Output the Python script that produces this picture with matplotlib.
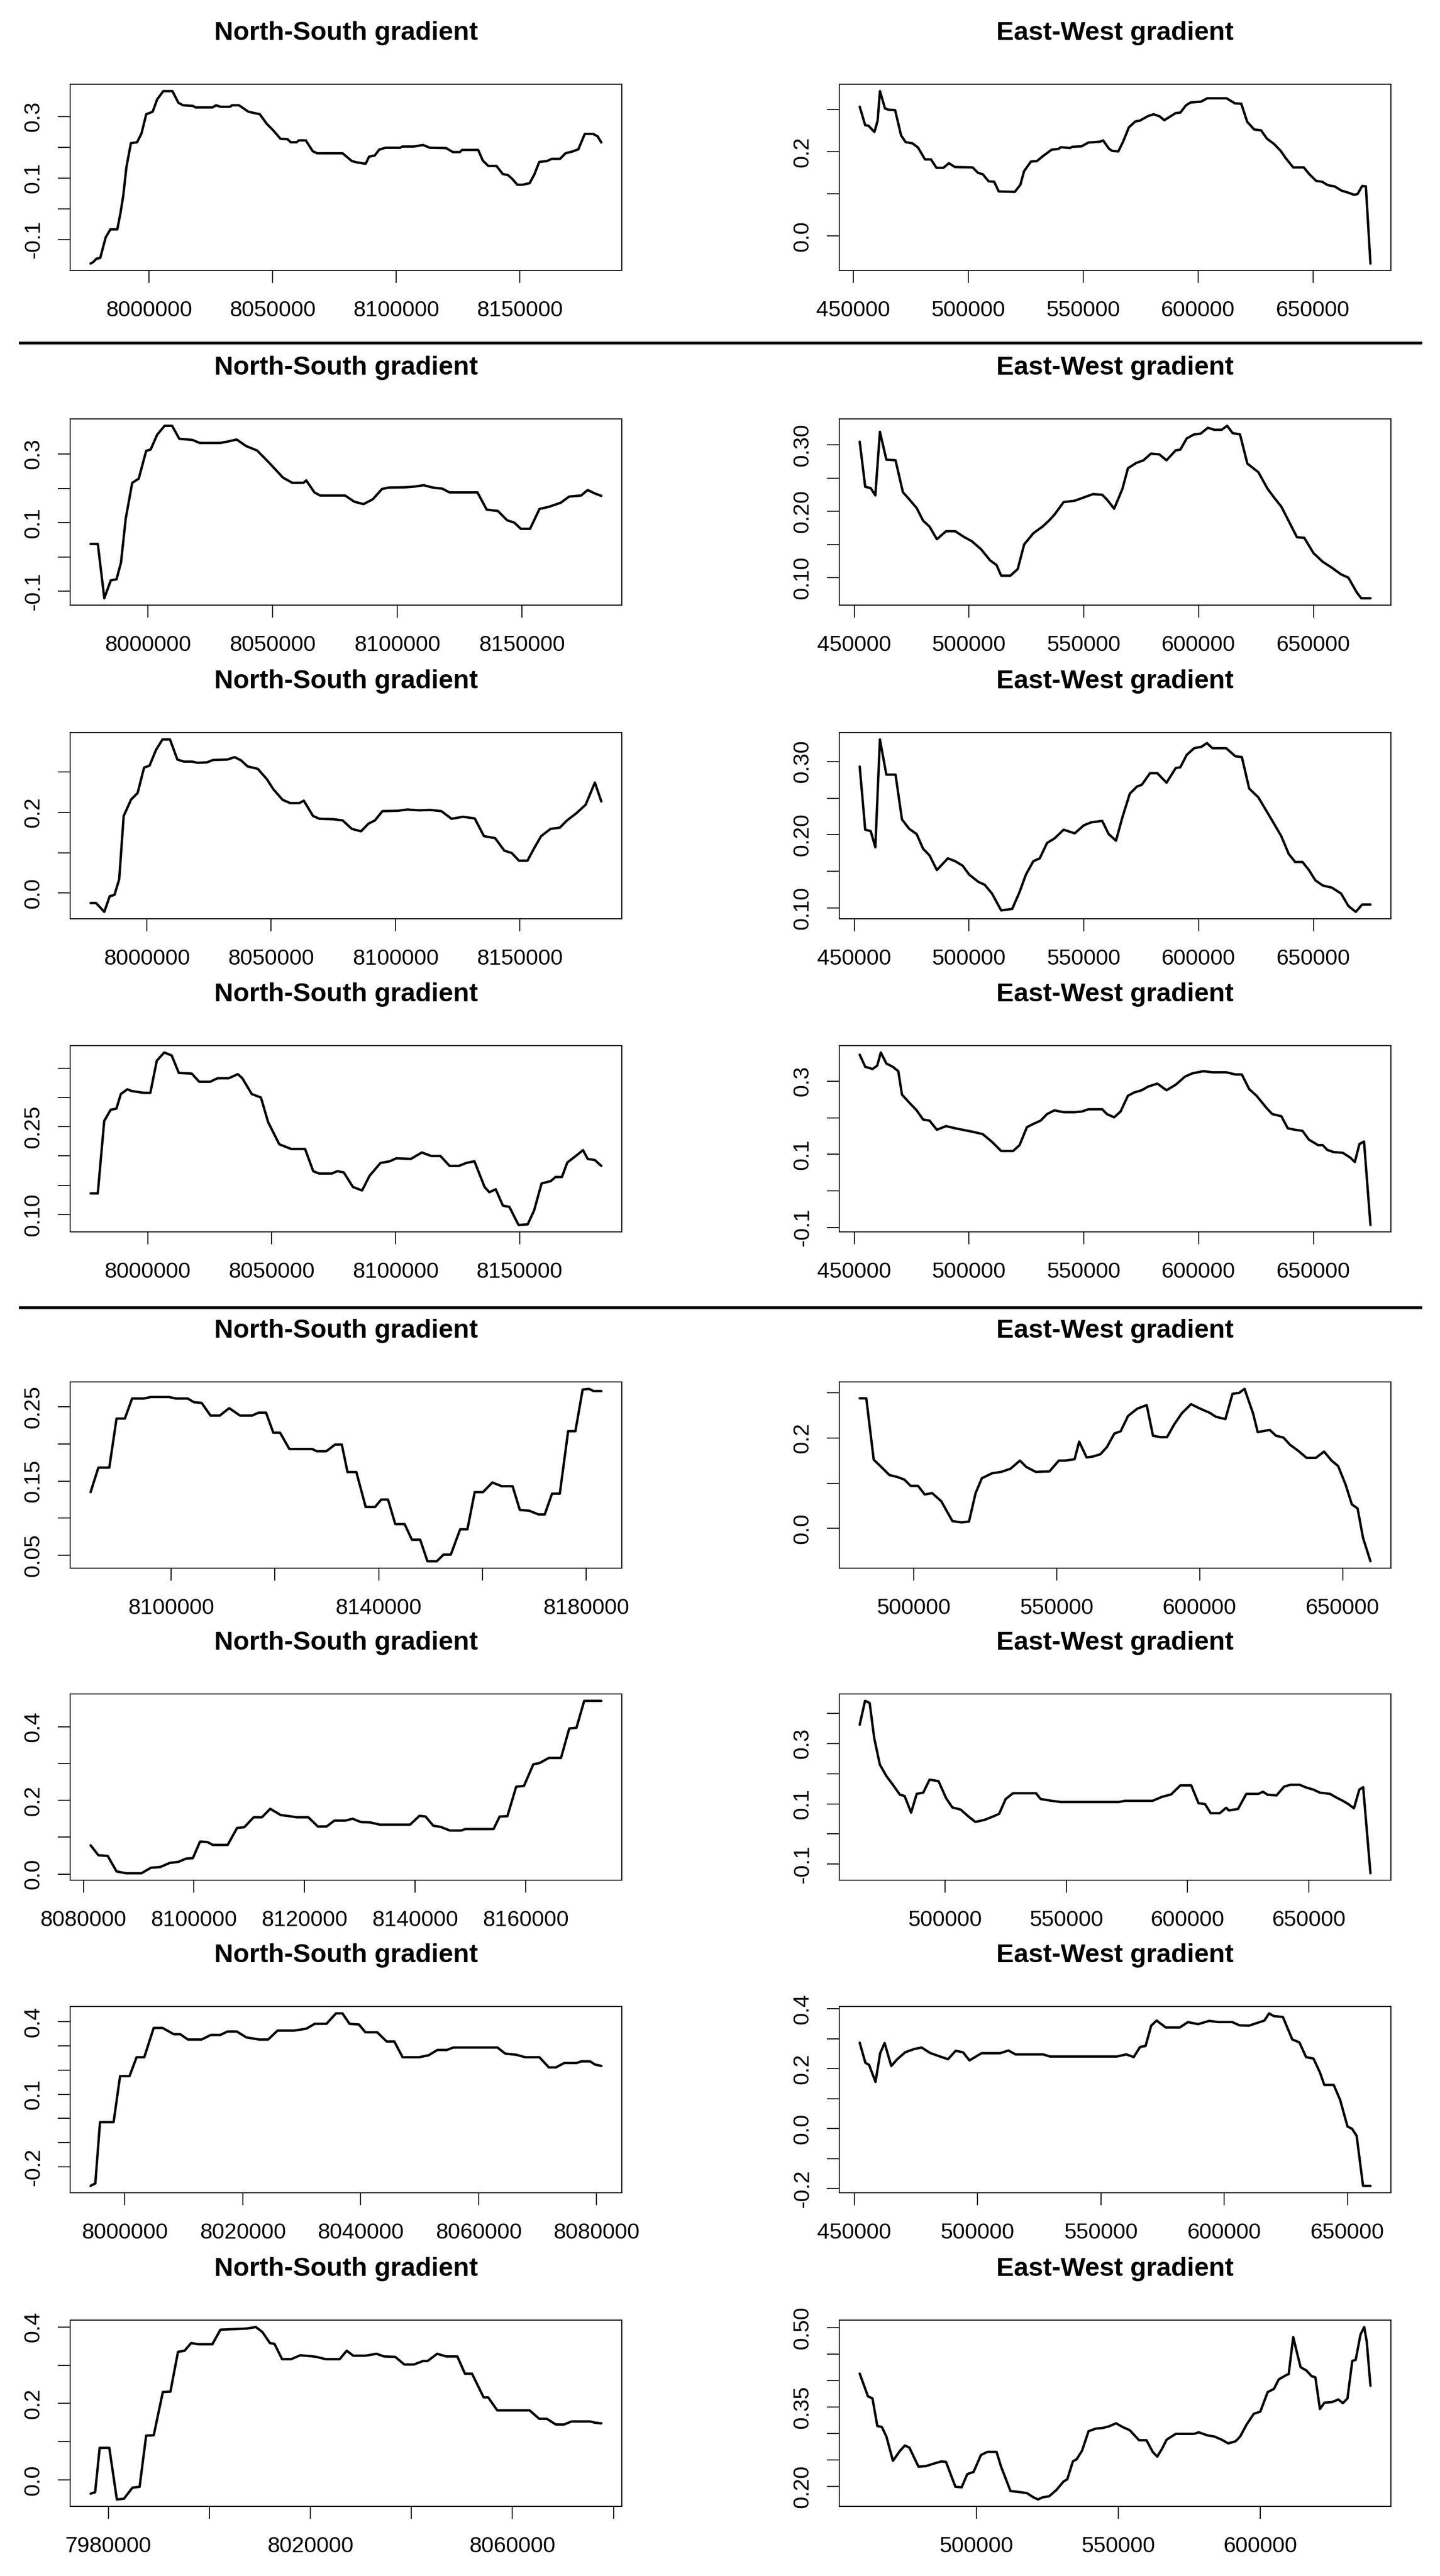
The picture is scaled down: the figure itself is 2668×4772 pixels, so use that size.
import matplotlib.pyplot as plt
from matplotlib.lines import Line2D

plt.rcParams['font.family'] = ['Liberation Sans', 'DejaVu Sans']

# gradient profiles: (coordinate in km, gradient)
ns_1 = [(7976.4, -0.178), (7977.5, -0.173), (7978.8, -0.162), (7980.3, -0.160), (7982.5, -0.093),
        (7984.4, -0.067), (7987.2, -0.067), (7988.5, -0.013), (7989.6, 0.042), (7990.9, 0.136),
        (7992.7, 0.213), (7995.2, 0.216), (7997.0, 0.245), (7998.9, 0.307), (8001.5, 0.315),
        (8003.3, 0.355), (8005.8, 0.382), (8009.5, 0.382), (8011.9, 0.344), (8013.8, 0.336),
        (8017.8, 0.334), (8018.8, 0.329), (8025.7, 0.329), (8027.1, 0.336), (8029.0, 0.331),
        (8032.7, 0.331), (8033.6, 0.336), (8036.4, 0.336), (8040.2, 0.315), (8044.8, 0.307),
        (8047.6, 0.276), (8050.4, 0.253), (8053.2, 0.227), (8056.0, 0.226), (8057.3, 0.216),
        (8059.7, 0.216), (8060.6, 0.222), (8063.4, 0.222), (8066.2, 0.187), (8068.0, 0.180),
        (8078.3, 0.180), (8082.0, 0.155), (8083.8, 0.151), (8087.6, 0.146), (8089.0, 0.169),
        (8091.3, 0.173), (8093.1, 0.192), (8095.6, 0.198), (8101.5, 0.198), (8102.4, 0.202),
        (8107.1, 0.202), (8110.8, 0.207), (8113.6, 0.198), (8120.1, 0.197), (8122.9, 0.184),
        (8125.7, 0.184), (8126.6, 0.191), (8133.1, 0.191), (8135.0, 0.156), (8137.2, 0.139),
        (8140.5, 0.139), (8143.0, 0.113), (8145.2, 0.109), (8147.0, 0.096), (8148.9, 0.078),
        (8151.1, 0.078), (8153.9, 0.083), (8155.8, 0.111), (8157.8, 0.152), (8161.0, 0.155),
        (8162.8, 0.162), (8166.2, 0.162), (8168.4, 0.180), (8171.2, 0.186), (8173.6, 0.193),
        (8176.2, 0.243), (8179.6, 0.243), (8181.4, 0.235), (8182.9, 0.215)]

ew_1 = [(452.8, 0.307), (455.2, 0.263), (456.6, 0.262), (459.2, 0.247), (460.6, 0.274),
        (461.6, 0.344), (463.8, 0.303), (465.2, 0.300), (468.2, 0.299), (470.8, 0.239),
        (472.8, 0.223), (475.8, 0.220), (478.2, 0.210), (481.2, 0.182), (483.8, 0.182),
        (486.2, 0.162), (489.2, 0.162), (491.6, 0.173), (494.2, 0.164), (501.9, 0.163),
        (504.3, 0.150), (506.3, 0.147), (508.9, 0.130), (511.3, 0.129), (513.3, 0.106),
        (520.3, 0.105), (522.7, 0.122), (524.3, 0.154), (527.3, 0.177), (529.9, 0.178),
        (532.3, 0.189), (536.3, 0.205), (539.3, 0.207), (540.3, 0.211), (544.3, 0.209),
        (545.3, 0.212), (549.3, 0.213), (552.3, 0.222), (557.3, 0.224), (558.7, 0.227),
        (561.3, 0.207), (562.7, 0.202), (565.3, 0.201), (567.3, 0.223), (569.9, 0.258),
        (572.7, 0.272), (574.7, 0.274), (578.3, 0.285), (580.7, 0.289), (583.3, 0.284),
        (585.3, 0.275), (590.3, 0.292), (592.3, 0.293), (594.7, 0.310), (596.7, 0.317),
        (601.3, 0.319), (604.0, 0.327), (612.4, 0.327), (616.0, 0.315), (618.8, 0.314),
        (621.4, 0.271), (624.4, 0.253), (627.4, 0.251), (630.0, 0.231), (633.0, 0.219),
        (636.0, 0.202), (638.0, 0.186), (641.4, 0.163), (646.0, 0.163), (648.4, 0.147),
        (651.4, 0.131), (654.0, 0.129), (656.4, 0.121), (659.4, 0.118), (662.4, 0.108),
        (665.4, 0.103), (668.0, 0.098), (669.4, 0.100), (671.4, 0.119), (673.0, 0.118),
        (675.0, -0.065)]

ns_2 = [(7977.0, 0.038), (7979.9, 0.038), (7982.5, -0.120), (7985.1, -0.068), (7987.4, -0.065),
        (7989.2, -0.016), (7991.1, 0.112), (7993.7, 0.216), (7996.3, 0.228), (7999.3, 0.309),
        (8001.1, 0.313), (8003.7, 0.356), (8006.7, 0.382), (8009.7, 0.382), (8012.6, 0.344),
        (8017.8, 0.341), (8020.8, 0.332), (8029.0, 0.332), (8031.9, 0.336), (8035.6, 0.342),
        (8039.4, 0.323), (8043.8, 0.310), (8048.3, 0.277), (8054.2, 0.231), (8057.9, 0.216),
        (8062.4, 0.216), (8063.5, 0.223), (8066.8, 0.188), (8069.1, 0.179), (8079.1, 0.179),
        (8082.8, 0.161), (8086.5, 0.154), (8090.2, 0.168), (8093.9, 0.198), (8096.5, 0.202),
        (8103.2, 0.203), (8106.9, 0.205), (8110.6, 0.209), (8114.4, 0.202), (8118.1, 0.199),
        (8121.0, 0.188), (8132.2, 0.188), (8135.9, 0.138), (8140.4, 0.134), (8144.1, 0.107),
        (8147.0, 0.100), (8149.6, 0.082), (8153.3, 0.082), (8157.1, 0.140), (8160.8, 0.146),
        (8165.6, 0.158), (8169.0, 0.176), (8173.8, 0.179), (8176.4, 0.195), (8179.3, 0.185),
        (8181.9, 0.178)]

ew_2 = [(452.4, 0.305), (454.8, 0.237), (457.2, 0.235), (459.2, 0.224), (461.2, 0.320),
        (464.0, 0.278), (468.0, 0.277), (471.2, 0.229), (474.0, 0.218), (477.2, 0.205),
        (480.0, 0.186), (482.8, 0.177), (486.0, 0.158), (490.0, 0.170), (494.0, 0.170),
        (498.0, 0.161), (501.2, 0.155), (505.2, 0.143), (509.2, 0.126), (512.0, 0.119),
        (514.0, 0.103), (518.0, 0.103), (521.2, 0.113), (524.0, 0.150), (528.0, 0.167),
        (532.0, 0.177), (534.8, 0.186), (537.2, 0.195), (541.2, 0.214), (546.0, 0.216),
        (550.0, 0.221), (554.0, 0.226), (558.0, 0.225), (560.0, 0.218), (563.2, 0.204),
        (566.8, 0.234), (569.2, 0.265), (572.8, 0.273), (576.0, 0.277), (579.2, 0.287),
        (582.8, 0.286), (586.0, 0.277), (590.0, 0.292), (592.0, 0.293), (594.8, 0.310),
        (598.0, 0.316), (600.8, 0.317), (604.0, 0.326), (606.8, 0.323), (610.0, 0.323),
        (612.4, 0.329), (614.8, 0.318), (618.0, 0.316), (621.2, 0.272), (626.0, 0.259),
        (630.0, 0.234), (632.8, 0.221), (636.0, 0.207), (640.0, 0.180), (642.8, 0.161),
        (646.0, 0.160), (650.0, 0.137), (654.0, 0.124), (658.0, 0.115), (662.0, 0.105),
        (665.2, 0.100), (668.8, 0.078), (670.8, 0.069), (674.8, 0.069)]

ns_3 = [(7977.4, -0.025), (7979.6, -0.025), (7982.9, -0.047), (7985.1, -0.008), (7987.0, -0.005),
        (7988.9, 0.034), (7990.7, 0.191), (7993.7, 0.232), (7996.3, 0.248), (7998.9, 0.311),
        (8001.1, 0.316), (8003.7, 0.355), (8006.3, 0.381), (8009.3, 0.381), (8012.3, 0.331),
        (8014.9, 0.326), (8018.2, 0.326), (8020.4, 0.323), (8024.1, 0.324), (8026.7, 0.330),
        (8032.3, 0.331), (8035.3, 0.337), (8037.9, 0.329), (8040.5, 0.314), (8044.6, 0.308),
        (8048.3, 0.282), (8050.9, 0.257), (8054.6, 0.231), (8057.6, 0.223), (8061.3, 0.223),
        (8063.1, 0.229), (8066.8, 0.191), (8069.4, 0.184), (8074.9, 0.183), (8078.7, 0.180),
        (8082.4, 0.159), (8086.1, 0.153), (8089.1, 0.172), (8091.7, 0.180), (8094.7, 0.203),
        (8101.0, 0.204), (8104.7, 0.207), (8109.5, 0.205), (8114.0, 0.206), (8118.4, 0.203),
        (8122.5, 0.184), (8127.0, 0.189), (8131.8, 0.185), (8135.5, 0.141), (8140.0, 0.136),
        (8143.7, 0.105), (8146.7, 0.099), (8149.6, 0.080), (8153.0, 0.080), (8155.6, 0.110),
        (8158.5, 0.141), (8162.3, 0.159), (8166.0, 0.162), (8168.9, 0.180), (8172.7, 0.198),
        (8176.4, 0.219), (8180.1, 0.274), (8182.7, 0.227)]

ew_3 = [(452.4, 0.293), (454.8, 0.207), (457.2, 0.205), (459.2, 0.183), (461.2, 0.330),
        (464.0, 0.282), (468.0, 0.282), (470.8, 0.221), (474.0, 0.208), (477.2, 0.201),
        (480.0, 0.181), (482.8, 0.172), (486.0, 0.152), (490.8, 0.168), (494.0, 0.164),
        (497.2, 0.158), (500.0, 0.146), (504.0, 0.136), (506.8, 0.132), (510.0, 0.120),
        (514.0, 0.097), (518.8, 0.099), (522.0, 0.122), (524.8, 0.146), (528.0, 0.164),
        (530.8, 0.168), (534.0, 0.189), (537.2, 0.195), (541.2, 0.207), (546.0, 0.202),
        (550.0, 0.213), (553.2, 0.217), (558.0, 0.219), (560.8, 0.201), (564.0, 0.192),
        (566.8, 0.224), (570.0, 0.256), (573.2, 0.266), (575.2, 0.268), (578.8, 0.284),
        (582.0, 0.284), (586.0, 0.271), (590.0, 0.291), (592.0, 0.292), (594.8, 0.309),
        (598.0, 0.318), (601.2, 0.320), (603.6, 0.325), (606.0, 0.318), (612.0, 0.318),
        (616.0, 0.307), (618.8, 0.306), (622.0, 0.263), (626.0, 0.251), (630.0, 0.230),
        (633.2, 0.213), (636.0, 0.198), (639.2, 0.174), (642.0, 0.163), (645.2, 0.163),
        (648.0, 0.152), (650.8, 0.138), (654.0, 0.131), (658.0, 0.128), (662.0, 0.120),
        (665.2, 0.103), (668.4, 0.095), (671.2, 0.105), (674.8, 0.105)]

ns_4 = [(7977.0, 0.136), (7979.9, 0.136), (7982.5, 0.260), (7985.1, 0.279), (7987.4, 0.281),
        (7989.2, 0.306), (7991.8, 0.314), (7993.7, 0.311), (7998.5, 0.308), (8001.1, 0.308),
        (8003.7, 0.363), (8006.7, 0.377), (8009.7, 0.372), (8012.6, 0.342), (8017.8, 0.341),
        (8020.8, 0.327), (8025.2, 0.327), (8028.2, 0.333), (8032.7, 0.333), (8036.4, 0.340),
        (8038.2, 0.333), (8042.0, 0.306), (8045.7, 0.300), (8048.6, 0.258), (8053.1, 0.220),
        (8057.9, 0.212), (8063.5, 0.212), (8066.8, 0.174), (8069.1, 0.170), (8074.3, 0.170),
        (8076.5, 0.174), (8079.1, 0.172), (8082.8, 0.147), (8086.5, 0.141), (8089.5, 0.166),
        (8093.9, 0.188), (8097.7, 0.191), (8100.3, 0.196), (8106.2, 0.195), (8110.6, 0.206),
        (8114.4, 0.200), (8118.1, 0.200), (8121.8, 0.183), (8125.5, 0.183), (8128.5, 0.188),
        (8131.8, 0.191), (8135.9, 0.147), (8137.8, 0.138), (8140.4, 0.143), (8143.3, 0.115),
        (8145.9, 0.113), (8149.6, 0.082), (8153.3, 0.083), (8155.9, 0.107), (8158.9, 0.153),
        (8162.6, 0.157), (8164.5, 0.164), (8167.1, 0.164), (8169.3, 0.189), (8173.0, 0.201),
        (8175.6, 0.210), (8177.5, 0.195), (8180.4, 0.193), (8183.0, 0.183)]

ew_4 = [(452.4, 0.372), (454.8, 0.339), (458.0, 0.333), (460.0, 0.342), (461.6, 0.378),
        (464.0, 0.348), (466.8, 0.339), (469.2, 0.327), (470.8, 0.263), (474.0, 0.241),
        (477.2, 0.220), (480.0, 0.195), (482.8, 0.192), (486.0, 0.167), (490.0, 0.177),
        (494.0, 0.171), (498.0, 0.166), (502.0, 0.161), (506.0, 0.155), (510.0, 0.134),
        (514.0, 0.109), (519.2, 0.109), (522.0, 0.125), (525.2, 0.174), (528.0, 0.183),
        (531.2, 0.192), (534.0, 0.210), (537.2, 0.220), (541.2, 0.215), (546.0, 0.215),
        (549.2, 0.217), (552.0, 0.223), (558.0, 0.223), (560.0, 0.210), (563.2, 0.201),
        (566.0, 0.217), (569.2, 0.260), (572.0, 0.269), (575.2, 0.275), (578.0, 0.285),
        (582.0, 0.293), (586.0, 0.275), (590.0, 0.290), (594.0, 0.312), (597.2, 0.321),
        (602.0, 0.327), (606.0, 0.324), (612.0, 0.324), (616.0, 0.318), (618.8, 0.318),
        (622.0, 0.278), (625.2, 0.260), (629.2, 0.229), (632.0, 0.210), (636.0, 0.204),
        (638.8, 0.171), (642.0, 0.167), (645.2, 0.164), (648.0, 0.140), (652.0, 0.125),
        (654.0, 0.125), (656.0, 0.112), (658.8, 0.106), (662.8, 0.104), (666.0, 0.091),
        (668.0, 0.079), (670.0, 0.128), (672.0, 0.135), (674.8, -0.093)]

ns_5 = [(8084.5, 0.135), (8086.0, 0.168), (8088.1, 0.168), (8089.5, 0.234), (8091.1, 0.234),
        (8092.5, 0.261), (8094.8, 0.261), (8096.1, 0.263), (8099.6, 0.263), (8100.9, 0.261),
        (8103.2, 0.261), (8104.4, 0.256), (8105.9, 0.255), (8107.6, 0.238), (8109.4, 0.238),
        (8111.2, 0.248), (8113.3, 0.238), (8115.6, 0.238), (8116.9, 0.242), (8118.3, 0.242),
        (8119.7, 0.215), (8121.0, 0.215), (8122.8, 0.193), (8127.2, 0.193), (8128.1, 0.190),
        (8129.9, 0.190), (8131.6, 0.199), (8132.9, 0.199), (8134.0, 0.162), (8135.7, 0.162),
        (8137.5, 0.115), (8139.3, 0.115), (8140.5, 0.125), (8141.8, 0.125), (8143.2, 0.092),
        (8145.0, 0.092), (8146.4, 0.071), (8148.0, 0.071), (8149.4, 0.042), (8151.2, 0.042),
        (8152.5, 0.051), (8153.9, 0.051), (8155.7, 0.085), (8157.1, 0.085), (8158.5, 0.135),
        (8160.1, 0.135), (8161.9, 0.148), (8163.7, 0.143), (8165.8, 0.143), (8167.2, 0.111),
        (8169.0, 0.110), (8170.8, 0.105), (8172.0, 0.105), (8173.4, 0.133), (8174.9, 0.133),
        (8176.5, 0.217), (8177.9, 0.217), (8179.3, 0.273), (8180.5, 0.274), (8181.4, 0.271),
        (8182.9, 0.271)]

ew_5 = [(481.2, 0.288), (483.5, 0.288), (486.1, 0.152), (488.4, 0.138), (491.6, 0.118),
        (494.2, 0.114), (496.8, 0.108), (499.0, 0.094), (501.6, 0.094), (503.9, 0.075),
        (506.5, 0.078), (509.7, 0.060), (513.6, 0.016), (516.8, 0.013), (519.4, 0.015),
        (521.7, 0.078), (523.9, 0.111), (527.5, 0.122), (530.7, 0.125), (533.9, 0.132),
        (537.2, 0.150), (539.4, 0.136), (542.7, 0.125), (547.5, 0.126), (550.8, 0.150),
        (553.0, 0.150), (556.3, 0.153), (557.9, 0.192), (560.5, 0.157), (562.7, 0.159),
        (565.3, 0.164), (567.6, 0.180), (570.2, 0.210), (572.4, 0.215), (575.0, 0.249),
        (578.2, 0.265), (581.5, 0.273), (583.7, 0.205), (586.3, 0.202), (588.6, 0.202),
        (591.2, 0.231), (593.8, 0.255), (597.0, 0.275), (600.2, 0.265), (603.5, 0.256),
        (605.7, 0.247), (609.0, 0.242), (611.5, 0.298), (613.8, 0.300), (615.7, 0.309),
        (618.7, 0.254), (620.3, 0.213), (624.5, 0.218), (626.7, 0.205), (629.3, 0.201),
        (631.6, 0.185), (634.2, 0.173), (637.4, 0.156), (640.6, 0.156), (643.5, 0.170),
        (646.1, 0.150), (648.4, 0.138), (651.0, 0.097), (653.2, 0.053), (655.2, 0.044),
        (657.1, -0.021), (659.7, -0.073)]

ns_6 = [(8081.3, 0.078), (8082.7, 0.051), (8084.4, 0.049), (8086.0, 0.007), (8087.7, 0.002),
        (8090.5, 0.002), (8092.2, 0.017), (8093.9, 0.019), (8095.6, 0.030), (8097.2, 0.033),
        (8098.6, 0.042), (8099.8, 0.043), (8101.1, 0.088), (8102.4, 0.087), (8103.4, 0.079),
        (8106.1, 0.079), (8107.8, 0.125), (8109.1, 0.127), (8110.8, 0.154), (8112.3, 0.154),
        (8113.8, 0.177), (8115.7, 0.160), (8117.3, 0.157), (8118.5, 0.154), (8120.7, 0.154),
        (8122.4, 0.129), (8124.0, 0.129), (8125.4, 0.145), (8127.4, 0.145), (8128.7, 0.150),
        (8130.2, 0.141), (8131.9, 0.140), (8133.6, 0.134), (8139.1, 0.134), (8140.8, 0.158),
        (8141.9, 0.156), (8143.3, 0.131), (8144.6, 0.128), (8146.3, 0.118), (8148.3, 0.118),
        (8149.1, 0.122), (8154.2, 0.122), (8155.3, 0.156), (8156.7, 0.157), (8158.3, 0.237),
        (8159.7, 0.239), (8161.4, 0.298), (8162.5, 0.301), (8164.2, 0.315), (8166.4, 0.315),
        (8167.9, 0.395), (8169.2, 0.397), (8170.6, 0.470), (8173.7, 0.470)]

ew_6 = [(464.8, 0.362), (467.0, 0.441), (468.9, 0.434), (470.8, 0.317), (473.1, 0.230),
        (475.8, 0.192), (478.4, 0.164), (481.4, 0.130), (483.3, 0.126), (486.0, 0.071),
        (488.3, 0.133), (491.0, 0.137), (493.6, 0.180), (497.3, 0.175), (500.4, 0.119),
        (503.0, 0.088), (506.4, 0.081), (509.8, 0.057), (512.5, 0.040), (516.3, 0.047),
        (520.1, 0.059), (522.3, 0.067), (525.0, 0.116), (528.0, 0.135), (537.5, 0.135),
        (539.4, 0.116), (543.9, 0.110), (547.7, 0.106), (571.6, 0.106), (574.2, 0.110),
        (585.6, 0.110), (589.4, 0.123), (593.2, 0.131), (597.0, 0.161), (601.5, 0.161),
        (604.5, 0.102), (607.2, 0.099), (609.5, 0.069), (613.3, 0.069), (615.9, 0.087),
        (617.0, 0.078), (620.8, 0.083), (624.2, 0.133), (629.2, 0.133), (631.1, 0.140),
        (633.0, 0.130), (636.7, 0.128), (639.8, 0.157), (642.4, 0.163), (646.2, 0.163),
        (648.9, 0.154), (651.9, 0.147), (654.5, 0.137), (658.7, 0.133), (661.3, 0.121),
        (664.0, 0.110), (666.3, 0.099), (668.6, 0.085), (670.8, 0.147), (672.4, 0.155),
        (675.4, -0.130)]

ns_7 = [(7994.2, -0.278), (7995.0, -0.268), (7995.8, -0.015), (7998.1, -0.015), (7999.2, 0.175),
        (8000.8, 0.175), (8002.0, 0.253), (8003.3, 0.253), (8004.9, 0.374), (8006.4, 0.374),
        (8008.3, 0.348), (8009.4, 0.348), (8010.7, 0.326), (8013.0, 0.326), (8014.6, 0.345),
        (8016.2, 0.345), (8017.4, 0.359), (8019.0, 0.359), (8020.6, 0.335), (8022.8, 0.326),
        (8024.3, 0.326), (8025.9, 0.363), (8028.7, 0.363), (8030.8, 0.371), (8032.2, 0.391),
        (8034.2, 0.391), (8035.8, 0.434), (8036.9, 0.434), (8038.1, 0.391), (8039.7, 0.388),
        (8040.8, 0.356), (8042.8, 0.356), (8044.4, 0.318), (8045.7, 0.318), (8047.1, 0.253),
        (8049.9, 0.253), (8051.5, 0.261), (8053.0, 0.283), (8054.6, 0.283), (8055.7, 0.293),
        (8063.2, 0.293), (8064.5, 0.268), (8066.4, 0.263), (8067.9, 0.253), (8070.3, 0.253),
        (8071.9, 0.211), (8073.1, 0.211), (8074.5, 0.229), (8076.6, 0.229), (8077.4, 0.236),
        (8078.9, 0.236), (8079.7, 0.223), (8080.8, 0.217)]

ew_7 = [(452.2, 0.287), (454.5, 0.220), (456.0, 0.213), (458.6, 0.156), (460.5, 0.252),
        (462.3, 0.286), (465.0, 0.209), (467.2, 0.230), (470.6, 0.255), (474.3, 0.266),
        (477.3, 0.271), (480.7, 0.253), (484.4, 0.242), (488.0, 0.232), (491.1, 0.260),
        (494.1, 0.255), (496.7, 0.228), (501.6, 0.252), (509.1, 0.252), (512.5, 0.261),
        (515.4, 0.248), (526.6, 0.248), (529.3, 0.241), (556.5, 0.241), (560.3, 0.248),
        (563.3, 0.239), (565.9, 0.273), (568.1, 0.276), (570.4, 0.344), (572.6, 0.361),
        (576.3, 0.338), (582.0, 0.338), (585.3, 0.356), (589.4, 0.349), (593.9, 0.360),
        (597.6, 0.356), (603.3, 0.356), (606.2, 0.345), (610.0, 0.344), (613.7, 0.354),
        (616.3, 0.361), (618.2, 0.385), (620.1, 0.376), (623.8, 0.373), (627.6, 0.298),
        (630.5, 0.288), (633.2, 0.239), (636.2, 0.234), (638.8, 0.188), (640.6, 0.146),
        (644.4, 0.146), (647.0, 0.096), (650.0, 0.007), (651.8, 0.000), (653.7, -0.024),
        (656.3, -0.191), (659.3, -0.191)]

ns_8 = [(7976.5, -0.036), (7977.4, -0.032), (7978.3, 0.084), (7980.2, 0.084), (7981.7, -0.051),
        (7983.1, -0.049), (7984.8, -0.020), (7986.2, -0.018), (7987.5, 0.116), (7989.0, 0.117),
        (7990.8, 0.230), (7992.3, 0.231), (7993.8, 0.335), (7995.1, 0.338), (7996.4, 0.358),
        (7997.8, 0.355), (8000.6, 0.355), (8002.2, 0.393), (8007.4, 0.396), (8009.2, 0.400),
        (8010.5, 0.387), (8012.0, 0.358), (8012.9, 0.356), (8014.4, 0.316), (8016.2, 0.316),
        (8018.0, 0.326), (8019.9, 0.324), (8021.2, 0.322), (8023.0, 0.316), (8025.8, 0.316),
        (8027.2, 0.338), (8028.5, 0.325), (8030.9, 0.325), (8033.1, 0.330), (8034.6, 0.323),
        (8036.8, 0.322), (8038.6, 0.302), (8040.5, 0.302), (8042.3, 0.311), (8043.2, 0.311),
        (8045.1, 0.330), (8046.9, 0.323), (8049.1, 0.323), (8050.6, 0.278), (8052.0, 0.278),
        (8054.3, 0.216), (8055.2, 0.216), (8057.0, 0.182), (8063.4, 0.182), (8065.3, 0.160),
        (8066.8, 0.160), (8068.6, 0.145), (8070.2, 0.145), (8071.7, 0.153), (8075.4, 0.153),
        (8076.3, 0.150), (8077.6, 0.148)]

ew_8 = [(458.9, 0.413), (461.8, 0.370), (463.4, 0.366), (465.1, 0.314), (466.7, 0.312),
        (468.3, 0.294), (470.6, 0.248), (473.1, 0.267), (474.8, 0.277), (476.4, 0.273),
        (479.6, 0.237), (482.2, 0.238), (484.5, 0.242), (487.7, 0.247), (489.3, 0.246),
        (492.6, 0.199), (494.8, 0.198), (496.8, 0.223), (499.0, 0.227), (501.6, 0.259),
        (503.9, 0.265), (507.1, 0.265), (508.7, 0.237), (512.0, 0.191), (515.2, 0.189),
        (517.8, 0.187), (520.1, 0.179), (521.7, 0.175), (523.3, 0.179), (525.6, 0.181),
        (528.2, 0.193), (530.7, 0.209), (532.0, 0.213), (534.0, 0.247), (535.3, 0.251),
        (537.2, 0.267), (539.5, 0.304), (542.1, 0.309), (544.3, 0.310), (546.6, 0.313),
        (549.2, 0.319), (551.5, 0.312), (554.0, 0.306), (557.3, 0.287), (559.9, 0.287),
        (562.1, 0.265), (563.7, 0.256), (565.4, 0.271), (567.0, 0.288), (570.2, 0.299),
        (576.7, 0.299), (578.3, 0.302), (581.5, 0.296), (583.8, 0.294), (586.4, 0.288),
        (588.7, 0.281), (591.3, 0.285), (592.9, 0.294), (595.1, 0.316), (597.7, 0.337),
        (600.0, 0.341), (602.6, 0.378), (604.8, 0.384), (606.5, 0.402), (609.1, 0.410),
        (610.0, 0.412), (611.6, 0.482), (612.9, 0.453), (614.2, 0.425), (616.2, 0.419),
        (618.1, 0.408), (619.4, 0.406), (621.0, 0.346), (622.6, 0.358), (625.2, 0.359),
        (627.5, 0.364), (629.1, 0.357), (630.7, 0.366), (632.4, 0.437), (633.6, 0.439),
        (635.3, 0.487), (636.6, 0.501), (637.5, 0.473), (638.8, 0.390)]

ns_profiles = [ns_1, ns_2, ns_3, ns_4, ns_5, ns_6, ns_7, ns_8]
ew_profiles = [ew_1, ew_2, ew_3, ew_4, ew_5, ew_6, ew_7, ew_8]

# axis ticks, '' = tick without label (R drops labels that would overlap)
ns_xticks = [[8000000, 8050000, 8100000, 8150000]] * 4 + [
    [8100000, 8120000, 8140000, 8160000, 8180000],
    [8080000, 8100000, 8120000, 8140000, 8160000],
    [8000000, 8020000, 8040000, 8060000, 8080000],
    [7980000, 8000000, 8020000, 8040000, 8060000, 8080000]]
ns_xlabels = [['8000000', '8050000', '8100000', '8150000']] * 4 + [
    ['8100000', '', '8140000', '', '8180000'],
    ['8080000', '8100000', '8120000', '8140000', '8160000'],
    ['8000000', '8020000', '8040000', '8060000', '8080000'],
    ['7980000', '', '8020000', '', '8060000', '']]
ew_xticks = [[450000, 500000, 550000, 600000, 650000]] * 4 + [
    [500000, 550000, 600000, 650000],
    [500000, 550000, 600000, 650000],
    [450000, 500000, 550000, 600000, 650000],
    [500000, 550000, 600000]]

ns_yticks = [[-0.1, 0.0, 0.1, 0.2, 0.3], [-0.1, 0.0, 0.1, 0.2, 0.3], [0.0, 0.1, 0.2, 0.3],
             [0.10, 0.15, 0.20, 0.25, 0.30, 0.35], [0.05, 0.10, 0.15, 0.20, 0.25],
             [0.0, 0.1, 0.2, 0.3, 0.4], [-0.2, -0.1, 0.0, 0.1, 0.2, 0.3, 0.4],
             [0.0, 0.1, 0.2, 0.3, 0.4]]
ns_ylabels = [['-0.1', '', '0.1', '', '0.3'], ['-0.1', '', '0.1', '', '0.3'], ['0.0', '', '0.2', ''],
              ['0.10', '', '', '0.25', '', ''], ['0.05', '', '0.15', '', '0.25'],
              ['0.0', '', '0.2', '', '0.4'], ['-0.2', '', '', '0.1', '', '', '0.4'],
              ['0.0', '', '0.2', '', '0.4']]
ew_yticks = [[0.0, 0.1, 0.2, 0.3], [0.10, 0.15, 0.20, 0.25, 0.30], [0.10, 0.15, 0.20, 0.25, 0.30],
             [-0.1, 0.0, 0.1, 0.2, 0.3], [0.0, 0.1, 0.2, 0.3], [-0.1, 0.0, 0.1, 0.2, 0.3, 0.4],
             [-0.2, -0.1, 0.0, 0.1, 0.2, 0.3, 0.4], [0.20, 0.25, 0.30, 0.35, 0.40, 0.45, 0.50]]
ew_ylabels = [['0.0', '', '0.2', ''], ['0.10', '', '0.20', '', '0.30'], ['0.10', '', '0.20', '', '0.30'],
              ['-0.1', '', '0.1', '', '0.3'], ['0.0', '', '0.2', ''], ['-0.1', '', '0.1', '', '0.3', ''],
              ['-0.2', '', '0.0', '', '0.2', '', '0.4'], ['0.20', '', '', '0.35', '', '', '0.50']]

W, H = 2668, 4772
fig = plt.figure(figsize=(W / 100, H / 100), dpi=100)

box_tops = [156, 776, 1357, 1937, 2560, 3138, 3717, 4298]
box_h = 345
box_w = 1022
col_x = [130, 1555]


def panel(x0, top, pts, title, xt, xl, yt, yl):
    ax = fig.add_axes([x0 / W, 1 - (top + box_h) / H, box_w / W, box_h / H])
    xs = [p[0] * 1000 for p in pts]
    ys = [p[1] for p in pts]
    ax.plot(xs, ys, color='black', lw=3.2, solid_joinstyle='round', solid_capstyle='round')
    ax.set_title(title, fontsize=35, fontweight='bold', pad=59)
    ax.set_xticks(xt)
    ax.set_xticklabels(xl, fontsize=29.5)
    ax.set_yticks(yt)
    ax.set_yticklabels(yl, fontsize=29.5, rotation=90, va='center')
    # R style 4% padding
    dx = (max(xs) - min(xs)) * 0.04
    dy = (max(ys) - min(ys)) * 0.04
    ax.set_xlim(min(xs) - dx, max(xs) + dx)
    ax.set_ylim(min(ys) - dy, max(ys) + dy)
    ax.tick_params(axis='both', direction='out', length=16.5, width=1.3)
    ax.tick_params(axis='x', pad=23)
    ax.tick_params(axis='y', pad=19)
    for s in ax.spines.values():
        s.set_linewidth(1.3)


for i in range(8):
    panel(col_x[0], box_tops[i], ns_profiles[i], 'North-South gradient',
          ns_xticks[i], ns_xlabels[i], ns_yticks[i], ns_ylabels[i])
    panel(col_x[1], box_tops[i], ew_profiles[i], 'East-West gradient',
          ew_xticks[i], [str(v) for v in ew_xticks[i]], ew_yticks[i], ew_ylabels[i])

# separators between the three stacked figures
for yy in [635, 2422]:
    fig.add_artist(Line2D([37 / W, 2632 / W], [1 - yy / H, 1 - yy / H], color='black', lw=3.6))

fig.savefig('out.png', dpi=100, facecolor='white')
